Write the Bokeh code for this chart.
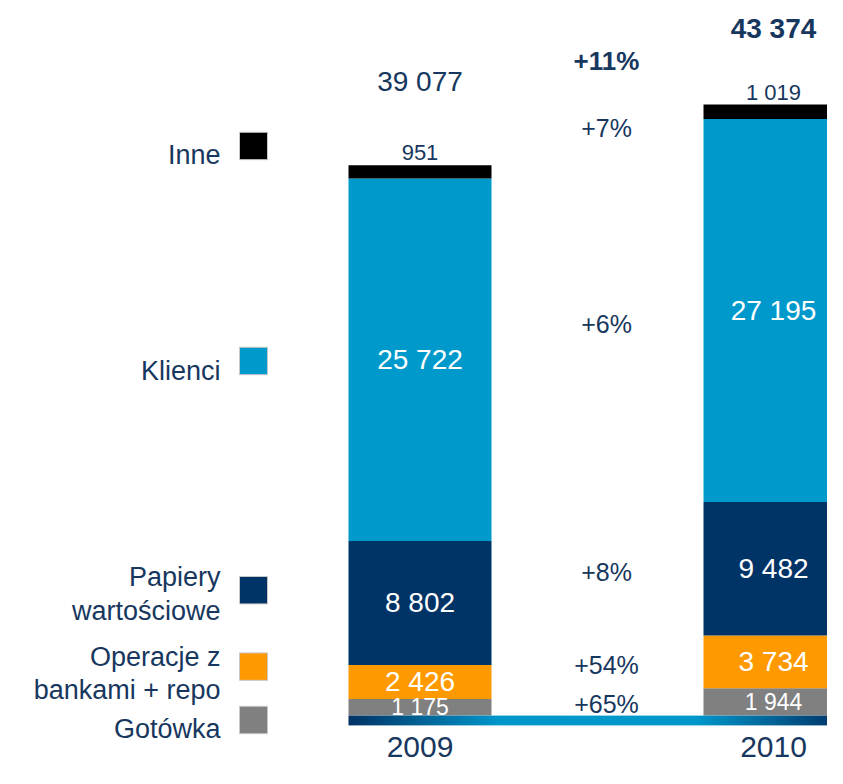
import numpy as np
from bokeh.plotting import figure
from bokeh.models import Range1d
from bokeh.core.properties import value
from bokeh.embed import file_html
from bokeh.resources import INLINE

# ---------------- data ----------------
years = ["2009", "2010"]
gotowka = [1175, 1944]
operacje = [2426, 3734]
papiery = [8802, 9482]
klienci = [25722, 27195]
inne = [951, 1019]
totals = [39077, 43374]
legend_labels = ["Gotówka", "Operacje z\nbankami + repo", "Papiery\nwartościowe", "Klienci", "Inne"]

# ---------------- style / layout ----------------
colors = ["#808080", "#FF9900", "#003366", "#0099CC", "#000000"]
NAVY = "#17375E"
FONT = value("Liberation Sans")
W, H = 827, 768
REF_H = 784
YS = H / REF_H           # vertical fit factor
SCALE = 0.01438          # reference pixels per unit
BASE = 730               # reference y of the zero line
bar_x = [419.5, 773]     # bar centres
bar_w = [143, 140]
growth_x = 606

def py(ref_y):
    """reference pixel y -> data value"""
    return (BASE - ref_y) / SCALE

p = figure(width=W, height=H, output_backend="svg", toolbar_location=None,
           x_axis_location=None, y_axis_location=None,
           x_range=Range1d(0, W),
           y_range=Range1d(py(REF_H), py(0)),
           min_border=0, outline_line_color=None)
p.grid.visible = False
p.background_fill_color = "white"
p.border_fill_color = "white"

stack = [gotowka, operacje, papiery, klienci, inne]
bottom = np.zeros(2)
mids = []
for vals, col in zip(stack, colors):
    vals = np.array(vals, dtype=float)
    top = bottom + vals
    p.vbar(x=bar_x, width=bar_w, bottom=bottom, top=top,
           fill_color=col, line_color=None)
    mids.append((bottom + top) / 2)
    bottom = top
tops = bottom

def fmt(v):
    return f"{int(round(v)):,}".replace(",", " ")

# in-bar labels (white)
label_sizes = ["23px", "28px", "28px", "28px"]
for i in range(4):
    vals = stack[i]
    p.text(x=bar_x, y=list(mids[i]), text=[fmt(v) for v in vals],
           text_color="white", text_font=FONT, text_font_size=label_sizes[i],
           text_align="center", text_baseline="middle")

# "Inne" labels above bars
p.text(x=bar_x, y=list(tops), text=[fmt(v) for v in inne], y_offset=[-13 * YS, -12 * YS],
       text_color=NAVY, text_font=FONT, text_font_size="22px",
       text_align="center", text_baseline="middle")

# totals
p.text(x=[bar_x[0]], y=[tops[0]], text=[fmt(totals[0])], y_offset=-85 * YS,
       text_color=NAVY, text_font=FONT, text_font_size="28px",
       text_align="center", text_baseline="middle")
p.text(x=[bar_x[1]], y=[tops[1]], text=[fmt(totals[1])], y_offset=-78 * YS,
       text_color=NAVY, text_font=FONT, text_font_size="28px", text_font_style="bold",
       text_align="center", text_baseline="middle")

# growth column
def growth(a, b):
    return f"+{round((b / a - 1) * 100):.0f}%"

growth_labels = [growth(s[0], s[1]) for s in stack]
growth_ref_y = [718, 678, 583, 330, 130]
p.text(x=[growth_x] * 5, y=[py(v) for v in growth_ref_y], text=growth_labels,
       text_color=NAVY, text_font=FONT, text_font_size="25px",
       text_align="center", text_baseline="middle")
p.text(x=[growth_x], y=[py(62)], text=[growth(totals[0], totals[1])],
       text_color=NAVY, text_font=FONT, text_font_size="26px", text_font_style="bold",
       text_align="center", text_baseline="middle")

# gradient base line
x0, x1 = 348, 843
n = 200
t = np.linspace(0, 1, n)
stops_t = [0.0, 0.3, 0.7, 1.0]
stops_c = np.array([[0x00, 0x33, 0x66], [0x00, 0x96, 0xCA], [0x00, 0x99, 0xCC], [0x00, 0x33, 0x66]], float)
rgba = np.zeros((1, n, 4), dtype=np.uint8)
for k in range(3):
    rgba[0, :, k] = np.interp(t, stops_t, stops_c[:, k]).astype(np.uint8)
rgba[0, :, 3] = 255
img = rgba.view(dtype=np.uint32).reshape((1, n))
p.image_rgba(image=[img], x=x0, y=py(740), dw=x1 - x0, dh=10 / SCALE)

# year labels
p.text(x=bar_x, y=[py(762)] * 2, text=years, text_color=NAVY, text_font=FONT,
       text_font_size="30px", text_align="center", text_baseline="middle")

# legend
legend_sq_y = [734.5, 680, 602, 368, 148.5]
p.rect(x=[253] * 5, y=[py(v) for v in legend_sq_y], width=28, height=28 / SCALE,
       fill_color=colors, line_color="#C8C8C8", line_width=1)
legend_ref_baseline = [[744], [670, 704], [588, 623], [378], [158]]
lx, ly, lt = [], [], []
for lab, bases in zip(legend_labels, legend_ref_baseline):
    for line, b in zip(lab.split("\n"), bases):
        lx.append(220)
        ly.append(py(b))
        lt.append(line)
p.text(x=lx, y=ly, text=lt, text_color=NAVY, text_font=FONT,
       text_font_size="27px", text_align="right", text_baseline="alphabetic")

open("out.html", "w").write(file_html(p, INLINE))
